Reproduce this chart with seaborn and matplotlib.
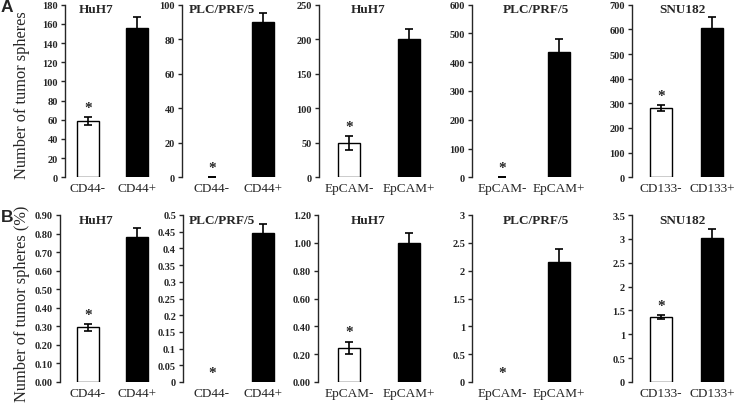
import numpy as np
import pandas as pd
import matplotlib
matplotlib.use('Agg')
import matplotlib.pyplot as plt
import seaborn as sns

# cell lines and sorted populations (one panel each, same order in rows A and B)
CELL_LINES = ['HuH7', 'PLC/PRF/5', 'HuH7', 'PLC/PRF/5', 'SNU182']
NEG_LABELS = ['CD44-', 'CD44-', 'EpCAM-', 'EpCAM-', 'CD133-']
POS_LABELS = ['CD44+', 'CD44+', 'EpCAM+', 'EpCAM+', 'CD133+']

# row A: number of tumor spheres (mean, error)
COUNT_NEG = [59, 0, 50, 0, 280]
COUNT_NEG_ERR = [4, 0, 10, 0, 12]
COUNT_POS = [156, 90, 200, 435, 606]
COUNT_POS_ERR = [11, 5, 15, 47, 44]
COUNT_YMAX = [180, 100, 250, 600, 700]
COUNT_STEP = [20, 20, 50, 100, 100]

# row B: number of tumor spheres (%)
PCT_NEG = [0.295, 0, 0.245, 0, 1.37]
PCT_NEG_ERR = [0.018, np.nan, 0.045, np.nan, 0.04]
PCT_POS = [0.78, 0.445, 1.0, 2.15, 3.02]
PCT_POS_ERR = [0.05, 0.027, 0.07, 0.24, 0.18]
PCT_YMAX = [0.9, 0.5, 1.2, 3, 3.5]
PCT_STEP = [0.1, 0.05, 0.2, 0.5, 0.5]
PCT_FMT = ['{:.2f}', '{:g}', '{:.2f}', '{:g}', '{:g}']

# layout in pixels of the 741x406 picture
W, H = 741, 406
SPINE_A = [65, 182, 319, 472, 632]
SPINE_B = [60, 183, 318, 472, 632]
BAR0_X = [88, 212, 349, 502, 661]
BAR1_X = [137, 263, 409, 559, 712]
TITLE_X = [96, 222, 368, 536, 682]
ROW_A = (5.7, 178.3)
ROW_B = (216, 383)

sns.set_style('ticks')
plt.rcParams['font.family'] = 'serif'
plt.rcParams['font.serif'] = ['Liberation Serif', 'DejaVu Serif']

fig = plt.figure(figsize=(W / 100, H / 100), dpi=100)


def draw_panel(i, spine, row, neg, neg_err, pos, pos_err, ymax, step, fmt):
    c0, c1 = BAR0_X[i], BAR1_X[i]
    s = c1 - c0
    h = (c0 - spine) / s
    top, bottom = row
    rect = [spine / W, 1 - bottom / H, (s + 2 * (c0 - spine)) / W, (bottom - top) / H]
    ax = fig.add_axes(rect)
    df = pd.DataFrame({'marker': [NEG_LABELS[i], POS_LABELS[i]], 'value': [neg, pos]})
    sns.barplot(data=df, x='marker', y='value', hue='marker', palette=['white', 'black'],
                edgecolor='black', linewidth=1, width=22 / s, errorbar=None,
                legend=False, ax=ax)
    # empty bars leave no outline
    for patch in ax.patches:
        if patch.get_height() == 0:
            patch.set_linewidth(0)
    for xpos, val, err in [(0, neg, neg_err), (1, pos, pos_err)]:
        if not np.isnan(err):
            ax.errorbar([xpos], [val], yerr=[err], fmt='none', ecolor='black',
                        elinewidth=1.2, capsize=2.8, capthick=1.2)
    star_y = neg + (0 if np.isnan(neg_err) else neg_err)
    ax.annotate('*', xy=(0, star_y), xytext=(0, 7), textcoords='offset points',
                ha='center', va='center', fontsize=11, fontweight='bold')
    ax.set_xlim(-h, 1 + h)
    ax.set_ylim(0, ymax)
    ticks = np.arange(0, ymax + step / 2, step)
    ax.set_yticks(ticks)
    ax.set_yticklabels([fmt.format(round(t, 2)) for t in ticks], fontweight='bold')
    ax.tick_params(axis='y', direction='out', length=3, width=1, labelsize=7.5, pad=2)
    ax.tick_params(axis='x', length=0, labelsize=9.5, pad=3.5)
    for side in ['top', 'right', 'bottom']:
        ax.spines[side].set_visible(False)
    ax.spines['left'].set_linewidth(1)
    ax.set_xlabel('')
    ax.set_ylabel('')
    fig.text(TITLE_X[i] / W, 1 - (top - 1.5) / H, CELL_LINES[i], ha='center', va='top',
             fontsize=9.5, fontweight='bold')
    return ax


for i in range(5):
    draw_panel(i, SPINE_A[i], ROW_A, COUNT_NEG[i], COUNT_NEG_ERR[i], COUNT_POS[i],
               COUNT_POS_ERR[i], COUNT_YMAX[i], COUNT_STEP[i], '{:g}')
    draw_panel(i, SPINE_B[i], ROW_B, PCT_NEG[i], PCT_NEG_ERR[i], PCT_POS[i],
               PCT_POS_ERR[i], PCT_YMAX[i], PCT_STEP[i], PCT_FMT[i])

fig.text(22 / W, 1 - 95 / H, 'Number of tumor spheres', rotation=90, ha='center',
         va='center', fontsize=11.8)
fig.text(22 / W, 1 - 304 / H, 'Number of tumor spheres (%)', rotation=90, ha='center',
         va='center', fontsize=11.8)
fig.text(1 / W, 1 - 7 / H, 'A', ha='left', va='center', fontsize=12.5,
         fontweight='bold', family='Liberation Sans')
fig.text(1 / W, 1 - 218 / H, 'B', ha='left', va='center', fontsize=12.5,
         fontweight='bold', family='Liberation Sans')

fig.savefig('out.png', dpi=100)
